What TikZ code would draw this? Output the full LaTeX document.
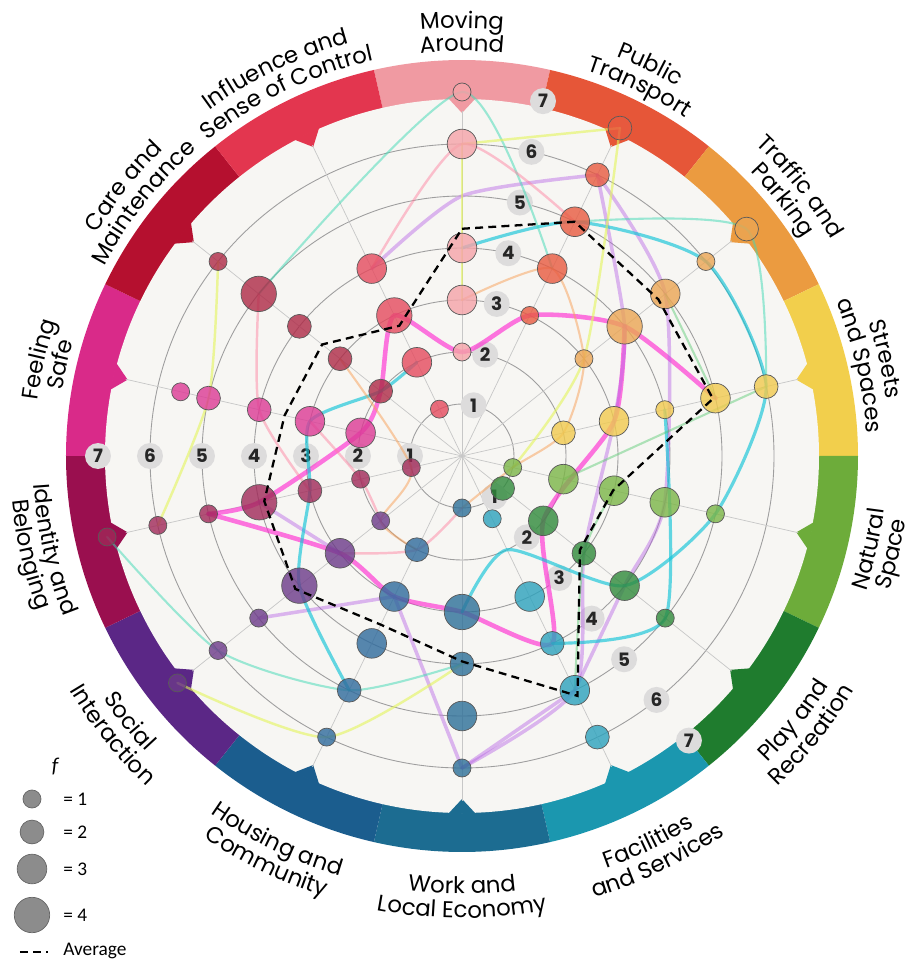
\documentclass[tikz,border=0pt]{standalone}
\usepackage{fontspec}
\setmainfont{Poppins}
\newfontfamily\segfont{Poppins}
\newfontfamily\keyfont{Carlito}
\usetikzlibrary{decorations.text}

% ring colours, one per theme
\definecolor{ring0}{HTML}{F09AA2}
\definecolor{ring1}{HTML}{E65638}
\definecolor{ring2}{HTML}{EB9B40}
\definecolor{ring3}{HTML}{F2CF4C}
\definecolor{ring4}{HTML}{6DAC3A}
\definecolor{ring5}{HTML}{1F7C2E}
\definecolor{ring6}{HTML}{1B97AF}
\definecolor{ring7}{HTML}{1C6C91}
\definecolor{ring8}{HTML}{1B5D8E}
\definecolor{ring9}{HTML}{5B2786}
\definecolor{ring10}{HTML}{9A0F4F}
\definecolor{ring11}{HTML}{D92A89}
\definecolor{ring12}{HTML}{B5102F}
\definecolor{ring13}{HTML}{E3364F}
% score dots
\definecolor{dot0}{HTML}{F5A3A8}
\definecolor{dot1}{HTML}{E85A40}
\definecolor{dot2}{HTML}{EBA553}
\definecolor{dot3}{HTML}{F1CA4E}
\definecolor{dot4}{HTML}{7BB547}
\definecolor{dot5}{HTML}{2F8A3B}
\definecolor{dot6}{HTML}{2CA2BD}
\definecolor{dot7}{HTML}{2C6F98}
\definecolor{dot8}{HTML}{2E6A9C}
\definecolor{dot9}{HTML}{6C3A89}
\definecolor{dot10}{HTML}{A02858}
\definecolor{dot11}{HTML}{DC3A95}
\definecolor{dot12}{HTML}{AE2946}
\definecolor{dot13}{HTML}{E54A5E}
% marker inks
\definecolor{inkmag}{HTML}{FF2ED2}
\definecolor{inkpur}{HTML}{B865E6}
\definecolor{inkcya}{HTML}{12C4D8}
\definecolor{inkteal}{HTML}{3FD9B5}
\definecolor{inkyel}{HTML}{E4F55A}
\definecolor{inkora}{HTML}{F8A056}
\definecolor{inkpin}{HTML}{FF7C9C}
\definecolor{inkgre}{HTML}{55C86E}
\definecolor{panel}{HTML}{F7F6F3}
\definecolor{badge}{HTML}{DDDCDC}

\newcommand{\levelr}{52}
\newcommand{\labfont}{\segfont\fontsize{13}{15}\selectfont}
\newcommand{\toptext}[3]{\path[decorate,decoration={text along path,text={|\labfont|#3},text align=center}]
  ({#1+45}:#2) arc[start angle={#1+45},end angle={#1-45},radius=#2];}
\newcommand{\bottext}[3]{\path[decorate,decoration={text along path,text={|\labfont|#3},text align=center}]
  ({#1-45}:#2) arc[start angle={#1-45},end angle={#1+45},radius=#2];}

\begin{document}
\begin{tikzpicture}[x=0.02cm, y=0.02cm,
  score/.style={fill=dot#1, draw=black!65, line width=0.4pt, fill opacity=0.8},
  badgebox/.style={circle, fill=badge, inner sep=0pt, minimum size=0.52cm,
    font=\segfont\bfseries\fontsize{10.5}{12}\selectfont, text=black!85},
  gridline/.style={draw=black!38, line width=0.5pt},
  spoke/.style={draw=black!22, line width=0.4pt},
  ink/.style={line width=#1, line cap=round, line join=round},
  magline/.style={ink=2.6pt, draw=inkmag, opacity=0.65},
  purline/.style={ink=2pt, draw=inkpur, opacity=0.45},
  cyaline/.style={ink=1.8pt, draw=inkcya, opacity=0.65},
  tealline/.style={ink=1.2pt, draw=inkteal, opacity=0.5},
  yelline/.style={ink=1.4pt, draw=inkyel, opacity=0.6},
  oraline/.style={ink=1.2pt, draw=inkora, opacity=0.5},
  pinline/.style={ink=1.4pt, draw=inkpin, opacity=0.45},
  greline/.style={ink=1.2pt, draw=inkgre, opacity=0.45},
  avg/.style={draw=black, line width=1.3pt, dash pattern=on 4.5pt off 3pt},
  keytext/.style={font=\keyfont\fontsize{11}{13}\selectfont, anchor=west, inner sep=0pt},
  keydot/.style={fill=black!45, draw=black!60, line width=0.4pt}
]
  \fill[white] (-462,-504) rectangle (450,456);
  \useasboundingbox (-462,-504) rectangle (450,456);

  % coloured ring and panel
  \foreach \i [evaluate=\i as \ang using 90-\i*360/14] in {0,...,13}
    \fill[ring\i] (0,0) -- ({\ang+180/14}:396) arc[start angle={\ang+180/14}, end angle={\ang-180/14}, radius=396] -- cycle;
  \fill[panel] (0,0) circle[radius=357];
  \foreach \i [evaluate=\i as \ang using 90-\i*360/14] in {0,...,13}
    \fill[ring\i] ({\ang+2.2}:358) -- (\ang:343) -- ({\ang-2.2}:358) -- cycle;

  % grid
  \foreach \k in {1,...,6}
    \draw[gridline] (0,0) circle[radius={\k*\levelr}];
  \foreach \i in {0,...,6}
    \draw[spoke] ({90-\i*360/14}:345) -- ({270-\i*360/14}:345);

  % score points on every spoke
  \foreach \i in {0,...,13}
    \foreach \l in {1,...,7}
      \coordinate (p\i-\l) at ({90-\i*360/14}:{\l*\levelr});
  \coordinate (p6-x) at ({90-6*360/14}:{1.34*\levelr});
  \coordinate (p11-x) at ({90-11*360/14}:{5.55*\levelr});

  \foreach \a/\n in {77.14/t, 180/l, -51.43/r}
    \foreach \k in {1,...,7}
      \node[badgebox] (\n\k) at (\a:{\k*\levelr}) {\k};

  % marker lines
  \draw[magline] plot[smooth, tension=0.4] coordinates {(p10-5) (p10-4) (p11-2) (p12-2) (p13-3) (p0-2) (p1-3) (p2-4) (p3-5)};
  \draw[magline] plot[smooth, tension=0.4] coordinates {(p10-5) (p9-3) (p8-3) (p7-3) (p6-4) (p5-2) (p3-3) (p2-4)};
  \draw[purline] plot[smooth, tension=0.4] coordinates {(p13-4) (p0-5) (p1-6)};
  \draw[purline] plot[smooth, tension=0.4] coordinates {(p1-6) (p2-4) (p3-3) (p5-3) (p6-5) (p7-6)};
  \draw[purline] plot[smooth, tension=0.4] coordinates {(p1-6) (p2-5) (p4-4) (p5-4) (p6-5)};
  \draw[purline] (p8-3) -- (p7-6);
  \draw[purline] (p7-6) -- (p6-5);
  \draw[purline] (p10-4) -- (p9-3);
  \draw[purline] (p9-5) -- (p8-3);
  \draw[cyaline] plot[smooth, tension=0.4] coordinates {(p0-4) (p1-5) (p2-6) (p3-6) (p4-5) (p5-4) (p6-2) (p7-3)};
  \draw[cyaline] plot[smooth, tension=0.4] coordinates {(p3-4) (p5-5) (p6-4)};
  \draw[cyaline] plot[smooth, tension=0.4] coordinates {(p8-5) (p9-4) (p10-3) (p11-3) (p12-2) (p13-2)};
  \draw[tealline] plot[smooth, tension=0.4] coordinates {(p1-5) (p2-7) (p3-6)};
  \draw[tealline] plot[smooth, tension=0.4] coordinates {(p10-7) (p9-6) (p8-5) (p7-4)};
  \draw[tealline] plot[smooth, tension=0.4] coordinates {(p12-5) (p0-7) (p1-4)};
  \draw[yelline] (p0-6) -- (p1-7);
  \draw[yelline] plot[smooth, tension=0.4] coordinates {(p9-7) (p8-6) (p7-4)};
  \draw[yelline] plot[smooth, tension=0.4] coordinates {(p12-6) (p11-5) (p10-6)};
  \draw[yelline] plot[smooth, tension=0.4] coordinates {(p1-7) (p2-3) (p4-1)};
  \draw[yelline] (p0-6) -- (p0-3);
  \draw[oraline] plot[smooth, tension=0.4] coordinates {(p12-3) (p10-1) (p9-2) (p8-2)};
  \draw[oraline] plot[smooth, tension=0.4] coordinates {(p7-1) (p4-1) (p3-2) (p2-3) (p1-4) (p0-3)};
  \draw[pinline] plot[smooth, tension=0.4] coordinates {(p13-4) (p0-6) (p1-5)};
  \draw[pinline] plot[smooth, tension=0.4] coordinates {(p9-3) (p8-2) (p7-1)};
  \draw[pinline] plot[smooth, tension=0.4] coordinates {(p11-3) (p10-2) (p9-2)};
  \draw[pinline] plot[smooth, tension=0.4] coordinates {(p12-5) (p11-4) (p10-3)};
  \draw[greline] (p4-2) -- (p3-6);
  \draw[greline] (p2-5) -- (p3-5);
  \draw[greline] plot[smooth, tension=0.4] coordinates {(p4-3) (p5-3) (p6-5)};

  % dots: theme / level / frequency
  \foreach \i/\l/\f in {
    0/7/1, 0/6/3, 0/4/3, 0/3/3, 0/2/1,
    1/7/2, 1/6/2, 1/5/3, 1/4/3, 1/3/1,
    2/7/2, 2/6/1, 2/5/3, 2/4/4, 2/3/1,
    3/6/2, 3/5/3, 3/4/1, 3/3/3, 3/2/2,
    4/5/1, 4/4/3, 4/3/3, 4/2/3, 4/1/1,
    5/5/1, 5/4/3, 5/3/2, 5/2/3, 5/1/2,
    6/6/2, 6/5/3, 6/4/2, 6/3/3, 6/x/1,
    7/6/1, 7/5/3, 7/4/2, 7/3/4, 7/1/1,
    8/6/1, 8/5/2, 8/4/3, 8/3/3, 8/2/2,
    9/7/1, 9/6/1, 9/5/1, 9/4/4, 9/3/3, 9/2/1,
    10/7/1, 10/6/1, 10/5/1, 10/4/4, 10/3/2, 10/2/1, 10/1/1,
    11/x/1, 11/5/2, 11/4/2, 11/3/3, 11/2/3,
    12/6/1, 12/5/4, 12/4/2, 12/3/2, 12/2/2,
    13/4/3, 13/3/4, 13/2/3, 13/1/1}
    \path[score=\i] (p\i-\l) circle[radius={6.1+2.9*\f}];

  % average
  \foreach \i/\v in {0/4.37, 1/5.0, 2/4.83, 3/4.95, 4/2.98, 5/2.9, 6/5.12,
                     7/3.95, 8/3.6, 9/4.1, 10/3.9, 11/3.5, 12/3.44, 13/2.78}
    \coordinate (a\i) at ({90-\i*360/14}:{\v*\levelr});
  \draw[avg] (a0) -- (a1) -- (a2) -- (a3) -- (a4) -- (a5) -- (a6) -- (a7)
    -- (a8) -- (a9) -- (a10) -- (a11) -- (a12) -- (a13) -- cycle;

  % theme names
  \toptext{90}{428}{Moving} \toptext{90}{405}{Around}
  \toptext{64.29}{428}{Public} \toptext{64.29}{405}{Transport}
  \toptext{38.57}{428}{Traffic and} \toptext{38.57}{405}{Parking}
  \toptext{12.86}{428}{Streets} \toptext{12.86}{405}{and Spaces}
  \bottext{-12.86}{426}{Natural} \bottext{-12.86}{448}{Space}
  \bottext{-38.57}{433}{Play and} \bottext{-38.57}{457}{Recreation}
  \bottext{-64.29}{437}{Facilities} \bottext{-64.29}{461}{and Services}
  \bottext{-90}{438}{Work and} \bottext{-90}{462}{Local Economy}
  \bottext{-115.71}{437}{Housing and} \bottext{-115.71}{461}{Community}
  \bottext{-141.43}{433}{Social} \bottext{-141.43}{457}{Interaction}
  \bottext{-167.14}{429}{Identity and} \bottext{-167.14}{452}{Belonging}
  \toptext{167.14}{428}{Feeling} \toptext{167.14}{405}{Safe}
  \toptext{141.43}{428}{Care and} \toptext{141.43}{405}{Maintenance}
  \toptext{115.71}{428}{Influence and} \toptext{115.71}{405}{Sense of Control}

  % key
  \node[font=\keyfont\itshape\fontsize{12}{14}\selectfont] (fkey) at (-407,-311) {f};
  \foreach \f/\y in {1/-343, 2/-376, 3/-413, 4/-459} {
    \path[keydot] (-430,\y) circle[radius={6.1+2.9*\f}];
    \node[keytext] (key\f) at (-399,\y) {= \f};
  }
  \coordinate (avgA) at (-442,-496);
  \coordinate (avgB) at (-414,-496);
  \draw[avg] (avgA) -- (avgB);
  \node[keytext] (avgtext) at (-399,-495) {Average};
\end{tikzpicture}
\end{document}
